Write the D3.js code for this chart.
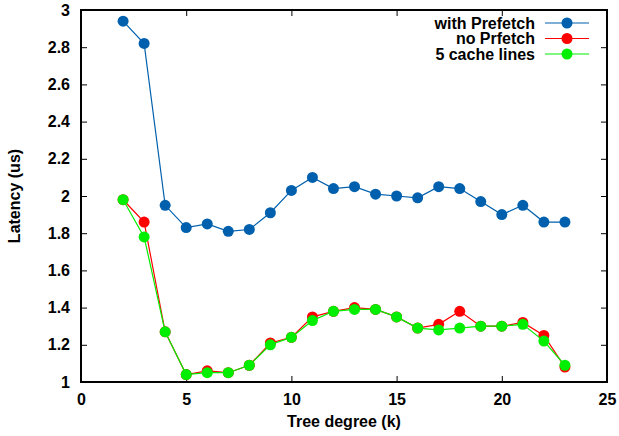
<!DOCTYPE html>
<html>
<head>
<meta charset="utf-8">
<script src="https://cdn.jsdelivr.net/npm/d3@7"></script>
<style>
  body { margin: 0; background: #fff; }
  text { font-family: "Liberation Sans", Arial, sans-serif; font-weight: bold; }
</style>
</head>
<body>
<div id="chart"></div>
<script>
const width = 619;
const height = 436;
const margin = { top: 10, right: 12, bottom: 54, left: 81 };

const degrees = [2, 3, 4, 5, 6, 7, 8, 9, 10, 11, 12, 13, 14, 15, 16, 17, 18, 19, 20, 21, 22, 23];
const withPrefetch = [2.94, 2.82, 1.95, 1.83, 1.85, 1.81, 1.82, 1.91, 2.03, 2.10, 2.04, 2.05, 2.01, 2.00, 1.99, 2.05, 2.04, 1.97, 1.90, 1.95, 1.86, 1.86];
const noPrefetch = [1.98, 1.86, 1.27, 1.04, 1.06, 1.05, 1.09, 1.21, 1.24, 1.35, 1.38, 1.40, 1.39, 1.35, 1.29, 1.31, 1.38, 1.30, 1.30, 1.32, 1.25, 1.08];
const cacheLines5 = [1.98, 1.78, 1.27, 1.04, 1.05, 1.05, 1.09, 1.20, 1.24, 1.33, 1.38, 1.39, 1.39, 1.35, 1.29, 1.28, 1.29, 1.30, 1.30, 1.31, 1.22, 1.09];
const xTicks = [0, 5, 10, 15, 20, 25];
const yTicks = [1, 1.2, 1.4, 1.6, 1.8, 2, 2.2, 2.4, 2.6, 2.8, 3];

const series = [
  { name: "with Prefetch", values: withPrefetch, color: "#0060ad" },
  { name: "no Prfetch", values: noPrefetch, color: "#ff0000" },
  { name: "5 cache lines", values: cacheLines5, color: "#00ee00" }
];

let svg = d3.select("#chart")
            .append("svg")
            .attr("width", width)
            .attr("height", height);

const x = d3.scaleLinear().domain([0, 25]).range([margin.left, width - margin.right]);
const y = d3.scaleLinear().domain([1, 3]).range([height - margin.bottom, margin.top]);

const tickLen = 6;

// axes, ticks pointing inward like gnuplot
svg.append("g")
   .attr("transform", `translate(0,${height - margin.bottom})`)
   .call(d3.axisBottom(x).tickValues(xTicks).tickSizeInner(-tickLen).tickSizeOuter(0).tickPadding(12))
   .call(g => g.select(".domain").remove());
svg.append("g")
   .attr("transform", `translate(0,${margin.top})`)
   .call(d3.axisTop(x).tickValues(xTicks.slice(1, -1)).tickSizeInner(-tickLen).tickSizeOuter(0).tickFormat(""))
   .call(g => g.select(".domain").remove());
svg.append("g")
   .attr("transform", `translate(${margin.left},0)`)
   .call(d3.axisLeft(y).tickValues(yTicks).tickSizeInner(-tickLen).tickSizeOuter(0).tickPadding(11).tickFormat(d3.format("")))
   .call(g => g.select(".domain").remove());
svg.append("g")
   .attr("transform", `translate(${width - margin.right},0)`)
   .call(d3.axisRight(y).tickValues(yTicks.slice(1, -1)).tickSizeInner(-tickLen).tickSizeOuter(0).tickFormat(""))
   .call(g => g.select(".domain").remove());

svg.selectAll(".tick text")
   .attr("font-size", 16)
   .attr("font-family", "Liberation Sans, Arial, sans-serif")
   .attr("font-weight", "bold")
   .attr("fill", "#000");
svg.selectAll(".tick line").attr("stroke", "#000").attr("stroke-width", 1);

svg.append("rect")
   .attr("x", margin.left)
   .attr("y", margin.top)
   .attr("width", width - margin.left - margin.right)
   .attr("height", height - margin.top - margin.bottom)
   .attr("fill", "none")
   .attr("stroke", "#000")
   .attr("stroke-width", 2);

const line = d3.line()
               .x((d, i) => x(degrees[i]))
               .y(d => y(d));

series.forEach(s => {
  svg.append("path")
     .datum(s.values)
     .attr("d", line)
     .attr("fill", "none")
     .attr("stroke", s.color)
     .attr("stroke-width", 1.2);
  svg.append("g")
     .selectAll("circle")
     .data(s.values)
     .enter()
     .append("circle")
     .attr("cx", (d, i) => x(degrees[i]))
     .attr("cy", d => y(d))
     .attr("r", 5.5)
     .attr("fill", s.color);
});

// legend
let legend = svg.append("g");
series.forEach((s, i) => {
  const ly = 23 + i * 15.5;
  legend.append("text")
        .attr("x", 535)
        .attr("y", ly)
        .attr("dy", "0.35em")
        .attr("text-anchor", "end")
        .attr("font-size", 16)
        .text(s.name);
  legend.append("line")
        .attr("x1", 545)
        .attr("x2", 589)
        .attr("y1", ly)
        .attr("y2", ly)
        .attr("stroke", s.color)
        .attr("stroke-width", 1.2);
  legend.append("circle")
        .attr("cx", 567)
        .attr("cy", ly)
        .attr("r", 5.5)
        .attr("fill", s.color);
});

svg.append("text")
   .attr("x", (margin.left + width - margin.right) / 2)
   .attr("y", 427)
   .attr("text-anchor", "middle")
   .attr("font-size", 16)
   .text("Tree degree (k)");

svg.append("text")
   .attr("transform", `translate(20,${(margin.top + height - margin.bottom) / 2}) rotate(-90)`)
   .attr("text-anchor", "middle")
   .attr("font-size", 16)
   .text("Latency (us)");
</script>
</body>
</html>
